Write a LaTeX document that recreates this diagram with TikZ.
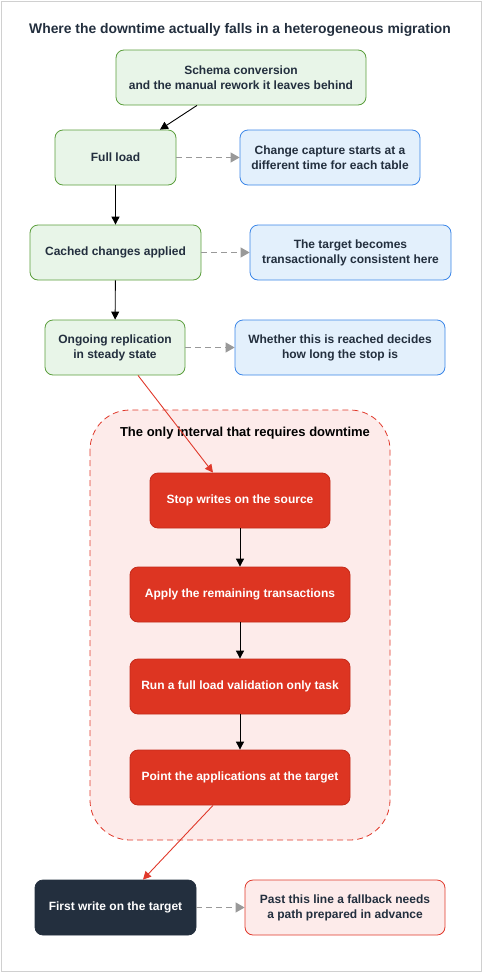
\documentclass[tikz,border=0pt]{standalone}
\usepackage{fontspec}
\setmainfont{Liberation Sans}
\usetikzlibrary{arrows.meta,positioning}
\definecolor{ink}{HTML}{232F3E}
\definecolor{stagefill}{HTML}{E8F5E8}
\definecolor{stageline}{HTML}{5B9E3C}
\definecolor{notefill}{HTML}{E3F0FC}
\definecolor{noteline}{HTML}{3B86E8}
\definecolor{stopfill}{HTML}{DD3522}
\definecolor{stopline}{HTML}{C42A1A}
\definecolor{zonefill}{HTML}{FDEBEA}
\definecolor{zoneline}{HTML}{E0392B}
\definecolor{asidegray}{HTML}{999999}
\definecolor{framegray}{HTML}{D0D0D0}

\begin{document}
\begin{tikzpicture}[x=1pt, y=-1pt,
    box/.style={rounded corners=8pt, minimum height=55pt, inner sep=0pt, align=center,
      font=\bfseries\fontsize{12}{15}\selectfont, text=ink, line width=0.8pt},
    stage/.style={box, fill=stagefill, draw=stageline},
    note/.style={box, fill=notefill, draw=noteline},
    halt/.style={box, fill=stopfill, draw=stopline, text=white},
    flow/.style={-{Triangle[length=8pt, width=8pt]}, line width=0.9pt, black},
    redflow/.style={-{Triangle[length=8pt, width=8pt]}, line width=0.9pt, zoneline},
    aside/.style={-{Triangle[length=9pt, width=10pt]}, line width=1.1pt, asidegray, dash pattern=on 6pt off 4pt}]
  \useasboundingbox (0,0) rectangle (482,972);
  % frame
  \draw [framegray, line width=1pt] (1,1) rectangle (481,971);
  \node (title) [font=\bfseries\fontsize{13.9}{16}\selectfont, text=ink] at (240,30) {Where the downtime actually falls in a heterogeneous migration};
  % downtime zone
  \draw [zoneline, fill=zonefill, rounded corners=40pt, line width=0.8pt, dash pattern=on 6pt off 4pt] (90,410) rectangle (390,840);
  \node (zonelabel) [font=\bfseries\fontsize{13}{15}\selectfont] at (245,433) {The only interval that requires downtime};
  % stages
  \node (schema) [stage, minimum width=250pt] at (241,77.5) {Schema conversion\\and the manual rework it leaves behind};
  \node (full) [stage, minimum width=121pt] at (115.5,157.5) {Full load};
  \node (cached) [stage, minimum width=171pt] at (115.5,252.5) {Cached changes applied};
  \node (ongoing) [stage, minimum width=140pt] at (115,347.5) {Ongoing replication\\in steady state};
  % notes
  \node (capture) [note, minimum width=180pt] at (330,157.5) {Change capture starts at a\\different time for each table};
  \node (consistent) [note, minimum width=201pt] at (350.5,252.5) {The target becomes\\transactionally consistent here};
  \node (reached) [note, minimum width=210pt] at (340,347.5) {Whether this is reached decides\\how long the stop is};
  % cutover steps
  \node (stopwrites) [halt, minimum width=180pt] at (240,500.5) {Stop writes on the source};
  \node (apply) [halt, minimum width=220pt] at (240,594.5) {Apply the remaining transactions};
  \node (validate) [halt, minimum width=220pt] at (240,686.5) {Run a full load validation only task};
  \node (point) [halt, minimum width=220pt] at (240,777.5) {Point the applications at the target};
  % after cutover
  \node (firstwrite) [box, fill=ink, draw=ink, text=white, minimum width=161pt] at (115.5,907.5) {First write on the target};
  \node (fallback) [box, fill=zonefill, draw=zoneline, minimum width=200pt] at (345,907.5) {Past this line a fallback needs\\a path prepared in advance};
  % connectors
  \draw [flow] ([xshift=-44pt]schema.south) -- ([xshift=44.5pt]full.north);
  \draw [flow] (full) -- (cached);
  \draw [flow] (cached) -- (ongoing);
  \draw [redflow] ([xshift=23pt]ongoing.south) -- ([xshift=-27pt]stopwrites.north);
  \draw [flow] (stopwrites) -- (apply);
  \draw [flow] (apply) -- (validate);
  \draw [flow] (validate) -- (point);
  \draw [redflow] ([xshift=-27pt]point.south) -- ([xshift=27.5pt]firstwrite.north);
  \draw [aside] (full) -- (capture);
  \draw [aside] (cached) -- (consistent);
  \draw [aside] (ongoing) -- (reached);
  \draw [aside] (firstwrite) -- (fallback);
\end{tikzpicture}
\end{document}
